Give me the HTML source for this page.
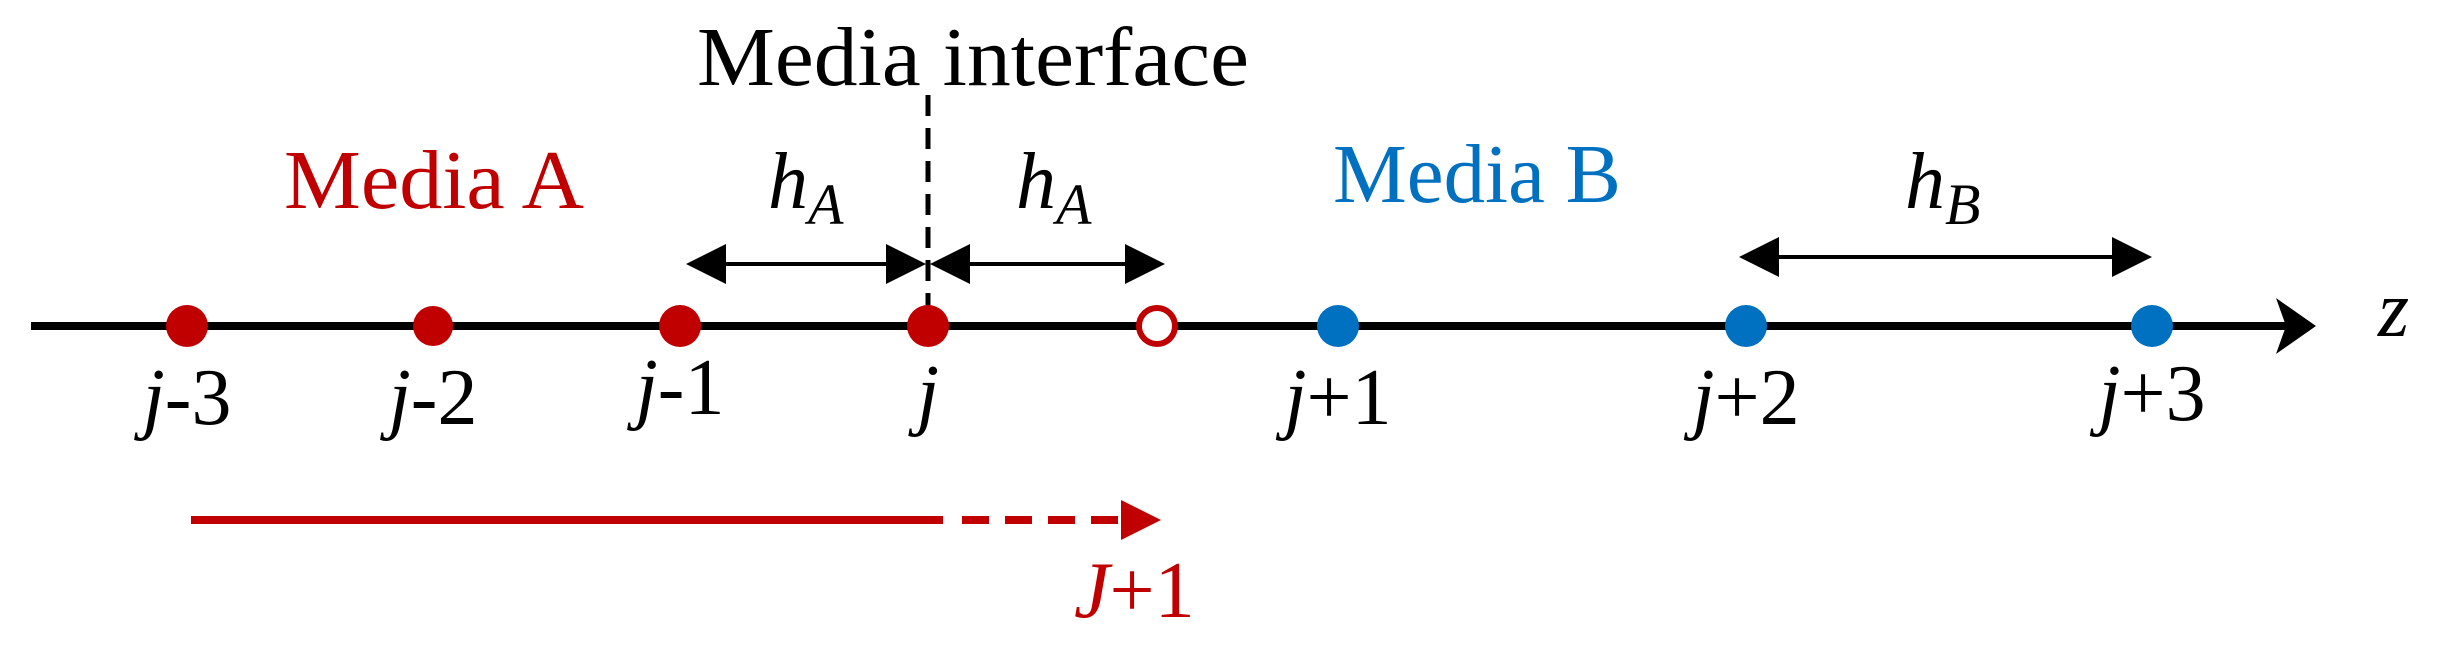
<!DOCTYPE html>
<html><head><meta charset="utf-8"><style>html,body{margin:0;padding:0;background:#fff}svg{display:block}</style></head>
<body>
<svg width="2440" height="664" viewBox="0 0 2440 664" xmlns="http://www.w3.org/2000/svg" font-family="'Liberation Serif', serif">
<!-- axis -->
<line x1="31" y1="326" x2="2290" y2="326" stroke="#000" stroke-width="8"/>
<polygon points="2276,298 2316,326 2276,354 2286,326" fill="#000"/>
<text x="2378" y="336" font-size="80" font-style="italic">z</text>
<!-- interface dashed -->
<line x1="928" y1="95" x2="928" y2="330" stroke="#000" stroke-width="5" stroke-dasharray="21,12"/>
<!-- hA arrows -->
<line x1="720" y1="264" x2="895" y2="264" stroke="#000" stroke-width="4"/>
<polygon points="686,264 726,244 726,284" fill="#000"/>
<polygon points="926,264 886,244 886,284" fill="#000"/>
<line x1="962" y1="264" x2="1130" y2="264" stroke="#000" stroke-width="4"/>
<polygon points="930,264 970,244 970,284" fill="#000"/>
<polygon points="1165,264 1125,244 1125,284" fill="#000"/>
<!-- hB arrow -->
<line x1="1775" y1="257" x2="2115" y2="257" stroke="#000" stroke-width="4"/>
<polygon points="1739,257 1779,237 1779,277" fill="#000"/>
<polygon points="2152,257 2112,237 2112,277" fill="#000"/>
<!-- dots -->
<g fill="#C00000">
<circle cx="187" cy="326" r="21"/><circle cx="433" cy="326" r="20"/><circle cx="680" cy="326" r="21"/><circle cx="928" cy="326" r="21"/>
</g>
<circle cx="1157" cy="326" r="18" fill="#fff" stroke="#C00000" stroke-width="6"/>
<g fill="#0070C0">
<circle cx="1338" cy="326" r="21"/><circle cx="1746" cy="326" r="21"/><circle cx="2152" cy="326" r="21"/>
</g>
<!-- texts -->
<text x="697" y="85" font-size="84" textLength="552" lengthAdjust="spacingAndGlyphs">Media interface</text>
<text x="284" y="208" font-size="84" fill="#C00000" textLength="300" lengthAdjust="spacingAndGlyphs">Media A</text>
<text x="1333" y="202" font-size="84" fill="#0070C0" textLength="288" lengthAdjust="spacingAndGlyphs">Media B</text>
<g font-style="italic" font-size="80">
<text x="768" y="208">h<tspan font-size="58" dy="16">A</tspan></text>
<text x="1016" y="208">h<tspan font-size="58" dy="16">A</tspan></text>
<text x="1905" y="208">h<tspan font-size="58" dy="16">B</tspan></text>
</g>
<g font-size="80" text-anchor="middle">
<text x="187" y="424"><tspan font-style="italic">j</tspan>-3</text>
<text x="433" y="424"><tspan font-style="italic">j</tspan>-2</text>
<text x="680" y="414"><tspan font-style="italic">j</tspan>-1</text>
<text x="928" y="420" font-style="italic">j</text>
<text x="1338" y="424"><tspan font-style="italic">j</tspan>+1</text>
<text x="1746" y="424"><tspan font-style="italic">j</tspan>+2</text>
<text x="2152" y="420"><tspan font-style="italic">j</tspan>+3</text>
</g>
<!-- red arrow -->
<line x1="191" y1="520" x2="943" y2="520" stroke="#C00000" stroke-width="8"/>
<line x1="962" y1="520" x2="1125" y2="520" stroke="#C00000" stroke-width="8" stroke-dasharray="27,16"/>
<polygon points="1121,500 1161,520 1121,540" fill="#C00000"/>
<text x="1074" y="617" font-size="80" fill="#C00000"><tspan font-style="italic">J</tspan>+1</text>
</svg>
</body></html>
